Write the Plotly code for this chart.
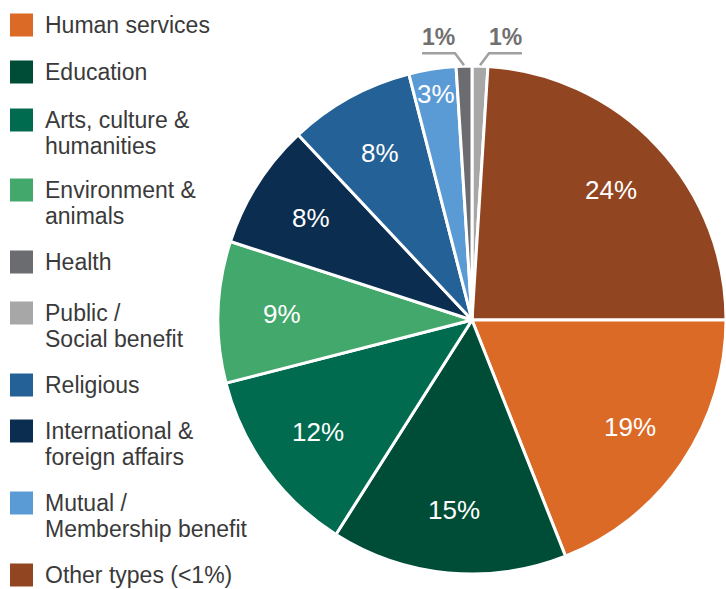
import math
import plotly.graph_objects as go

# slices, clockwise starting at 12 o'clock
slice_labels = ["Public / Social benefit", "Other types (<1%)", "Human services",
                "Education", "Arts, culture & humanities", "Environment & animals",
                "International & foreign affairs", "Religious",
                "Mutual / Membership benefit", "Health"]
slice_values = [1, 24, 19, 15, 12, 9, 8, 8, 3, 1]
slice_colors = ["#a7a7a7", "#924521", "#dc6a27", "#004d37", "#006b4f",
                "#43a86b", "#0b2e50", "#246196", "#5b9bd5", "#6b6c70"]

# legend, top to bottom
legend_labels = ["Human services", "Education", "Arts, culture &\nhumanities",
                 "Environment &\nanimals", "Health", "Public /\nSocial benefit",
                 "Religious", "International &\nforeign affairs",
                 "Mutual /\nMembership benefit", "Other types (<1%)"]
legend_colors = ["#dc6a27", "#004d37", "#006b4f", "#43a86b", "#6b6c70",
                 "#a7a7a7", "#246196", "#0b2e50", "#5b9bd5", "#924521"]
legend_rows = [25, 72, 120, 190, 262, 313, 385, 431, 503, 575]

W, H = 726, 589
CX, CY, R = 472, 320, 254
FONT = "Liberation Sans, Arial, sans-serif"


def px(x):
    return x / W


def py(y):
    return 1 - y / H


total = sum(slice_values)
small = [v <= 1 for v in slice_values]

fig = go.Figure(go.Pie(
    labels=slice_labels,
    values=slice_values,
    textinfo="none",
    marker=dict(colors=slice_colors, line=dict(color="white", width=3)),
    sort=False,
    direction="clockwise",
    rotation=0,
    hoverinfo="label+percent",
    showlegend=False,
    domain=dict(x=[px(CX - R), 1.0], y=[py(CY + R), py(CY - R)]),
))

annotations = []
shapes = []

# hand-made legend
for lab, col, y in zip(legend_labels, legend_colors, legend_rows):
    shapes.append(dict(type="rect", xref="paper", yref="paper",
                       x0=px(10), x1=px(33), y0=py(y + 11.5), y1=py(y - 11.5),
                       fillcolor=col, line=dict(width=0)))
    for i, line in enumerate(lab.split("\n")):
        annotations.append(dict(text=line, x=px(43), y=py(y + 26 * i),
                                xref="paper", yref="paper", xanchor="left",
                                yanchor="middle", showarrow=False,
                                font=dict(family=FONT, size=23, color="#3a3a3a")))

# percentage labels (angles clockwise from 12 o'clock)
cum = 0
for v, s in zip(slice_values, small):
    mid = (cum + v / 2) / total * 360
    cum += v
    a = math.radians(mid)
    if s:
        sx, sy = CX + (R + 1) * math.sin(a), CY - (R + 1) * math.cos(a)
        side = 1 if math.sin(a) > 0 else -1
        ex, ey = sx + side * 9, sy - 12
        hx = ex + side * 33
        shapes.append(dict(type="path", xref="paper", yref="paper",
                           path=f"M {px(sx)} {py(sy)} L {px(ex)} {py(ey)} L {px(hx)} {py(ey)}",
                           line=dict(color="#a0a0a0", width=2.5)))
        annotations.append(dict(text=f"<b>{v}%</b>", x=px((ex + hx) / 2), y=py(ey - 16),
                                xref="paper", yref="paper", xanchor="center",
                                yanchor="middle", showarrow=False,
                                font=dict(family=FONT, size=23, color="#707070")))
    else:
        rr = R * (0.9 if v < 5 else 0.75)
        annotations.append(dict(text=f"{v}%", x=px(CX + rr * math.sin(a)),
                                y=py(CY - rr * math.cos(a)),
                                xref="paper", yref="paper", xanchor="center",
                                yanchor="middle", showarrow=False,
                                font=dict(family=FONT, size=26, color="white")))

fig.update_layout(
    width=W, height=H,
    margin=dict(l=0, r=0, t=0, b=0),
    paper_bgcolor="white",
    plot_bgcolor="white",
    annotations=annotations,
    shapes=shapes,
)

fig.write_html("out.html", config={"displayModeBar": False},
               post_script="document.body.style.margin='0';")
